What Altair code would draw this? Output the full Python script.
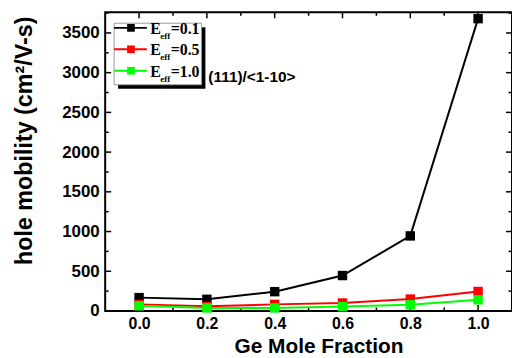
import altair as alt
import pandas as pd

# ---- data ----
ge_fraction = [0.0, 0.2, 0.4, 0.6, 0.8, 1.0]
mob_e01 = [168, 147, 243, 446, 945, 3680]
mob_e05 = [83, 58, 83, 100, 150, 245]
mob_e10 = [65, 38, 38, 55, 78, 140]
e_eff_labels = ["0.1", "0.5", "1.0"]
series_colors = ["#000000", "#ff0000", "#00ff00"]

x_major = [0.0, 0.2, 0.4, 0.6, 0.8, 1.0]
x_minor = [0.1, 0.3, 0.5, 0.7, 0.9]
y_major = [0, 500, 1000, 1500, 2000, 2500, 3000, 3500]
y_minor = [250, 750, 1250, 1750, 2250, 2750, 3250, 3750]

W, H = 410, 301
SANS = "Liberation Sans"
SERIF = "Liberation Serif"

xs = alt.Scale(domain=[-0.1, 1.1], nice=False, zero=False)
ys = alt.Scale(domain=[0, 3760], nice=False)

x_axis = alt.Axis(
    values=x_major, format=".1f", ticks=False, domain=False, grid=False,
    labelFont=SANS, labelFontWeight="bold", labelFontSize=16, labelColor="black",
    labelPadding=4.5, labelFlush=False, labelOverlap=False,
    title="Ge Mole Fraction", titleFont=SANS, titleFontWeight="bold",
    titleFontSize=21, titleColor="black", titleX=215, titleY=41.5,
    titleAlign="center", titleBaseline="alphabetic",
)
y_axis = alt.Axis(
    values=y_major, format="d", ticks=False, domain=False, grid=False,
    labelFont=SANS, labelFontWeight="bold", labelFontSize=17, labelColor="black",
    labelPadding=6, labelFlush=False, labelOverlap=False,
    title="hole mobility (cm²/V-s)", titleFont=SANS, titleFontWeight="bold",
    titleFontSize=23.5, titleColor="black", titleX=-81, titleY=129,
    titleAngle=270, titleAlign="center", titleBaseline="middle",
)

X = alt.X("x:Q", scale=xs, axis=x_axis)
Y = alt.Y("y:Q", scale=ys, axis=y_axis)

layers = []

# inward ticks (frame)
ymaj = alt.Chart(pd.DataFrame({"y": y_major}))
ymin = alt.Chart(pd.DataFrame({"y": y_minor}))
xmaj = alt.Chart(pd.DataFrame({"x": x_major}))
xmin = alt.Chart(pd.DataFrame({"x": x_minor}))
tk = dict(color="black", strokeWidth=1.5)
layers += [
    ymaj.mark_rule(**tk).encode(y=Y, x=alt.value(0), x2=alt.value(6)),
    ymin.mark_rule(**tk).encode(y=Y, x=alt.value(0), x2=alt.value(3.5)),
    ymaj.mark_rule(**tk).encode(y=Y, x=alt.value(W), x2=alt.value(W - 6)),
    ymin.mark_rule(**tk).encode(y=Y, x=alt.value(W), x2=alt.value(W - 3.5)),
    xmaj.mark_rule(**tk).encode(x=X, y=alt.value(H), y2=alt.value(H - 6)),
    xmin.mark_rule(**tk).encode(x=X, y=alt.value(H), y2=alt.value(H - 3.5)),
    xmaj.mark_rule(**tk).encode(x=X, y=alt.value(0), y2=alt.value(6)),
    xmin.mark_rule(**tk).encode(x=X, y=alt.value(0), y2=alt.value(3.5)),
]

# data series
for vals, col in zip([mob_e01, mob_e05, mob_e10], series_colors):
    base = alt.Chart(pd.DataFrame({"x": ge_fraction, "y": vals}))
    layers.append(base.mark_line(color=col, strokeWidth=2).encode(x=X, y=Y))
    layers.append(
        base.mark_point(shape="square", filled=True, size=90, color=col, opacity=1)
        .encode(x=X, y=Y)
    )

# manual legend (with subscript)
one = alt.Chart(pd.DataFrame({"k": [0]}))
layers.append(one.mark_rect(color="black").encode(
    x=alt.value(13), x2=alt.value(101), y=alt.value(15), y2=alt.value(77)))
layers.append(one.mark_rect(fill="white", stroke="#9a9a9a", strokeWidth=1).encode(
    x=alt.value(9), x2=alt.value(97), y=alt.value(11), y2=alt.value(73)))
for i, (lab, col) in enumerate(zip(e_eff_labels, series_colors)):
    ey = 15.7 + 21.6 * i
    layers.append(one.mark_rule(color=col, strokeWidth=2).encode(
        x=alt.value(9), x2=alt.value(42), y=alt.value(ey)))
    layers.append(one.mark_point(shape="square", filled=True, size=60, color=col, opacity=1)
                  .encode(x=alt.value(26), y=alt.value(ey)))
    layers.append(one.mark_text(font=SERIF, fontWeight="bold", fontSize=16, align="left",
                                baseline="alphabetic", color="black")
                  .encode(x=alt.value(45.5), y=alt.value(ey + 6), text=alt.value("E")))
    layers.append(one.mark_text(font=SERIF, fontWeight="bold", fontSize=9, align="left",
                                baseline="alphabetic", color="black")
                  .encode(x=alt.value(55.5), y=alt.value(ey + 11), text=alt.value("eff")))
    layers.append(one.mark_text(font=SERIF, fontWeight="bold", fontSize=16, align="left",
                                baseline="alphabetic", color="black")
                  .encode(x=alt.value(66), y=alt.value(ey + 6), text=alt.value("=" + lab)))

# annotation
layers.append(one.mark_text(font=SANS, fontWeight="bold", fontSize=15.5, align="left",
                            baseline="alphabetic", color="black")
              .encode(x=alt.value(104), y=alt.value(70), text=alt.value("(111)/<1-10>")))

chart = (
    alt.layer(*layers)
    .properties(width=W, height=H, autosize="none",
                padding={"left": 106, "top": 11, "right": 0, "bottom": 46},
                background="white")
    .configure_view(stroke="black", strokeWidth=2)
)

chart.save("out.html", embed_options={"renderer": "svg", "actions": False})
